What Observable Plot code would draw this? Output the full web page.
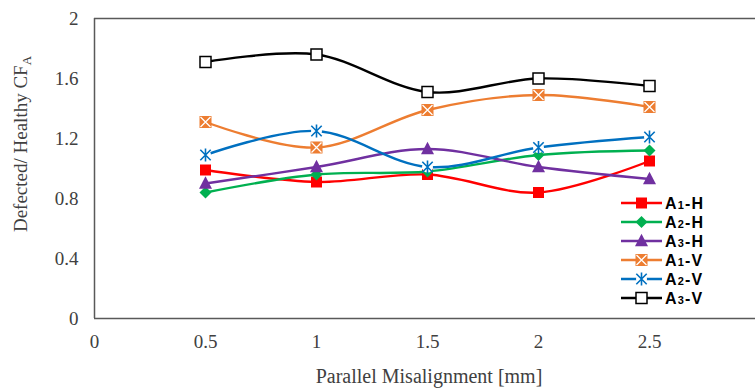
<!DOCTYPE html>
<html>
<head>
<meta charset="utf-8">
<script src="https://cdn.jsdelivr.net/npm/d3@7"></script>
<script src="https://cdn.jsdelivr.net/npm/@observablehq/plot@0.6"></script>
<style>
  html, body { margin: 0; padding: 0; background: #fff; overflow: hidden; }
  #chart { position: relative; width: 755px; height: 388px; }
  #chart svg { overflow: hidden; }
</style>
</head>
<body>
<div id="chart"></div>
<script>
// ---- data ----
const misalignment = [0.5, 1, 1.5, 2, 2.5];
const seriesNames = ["A1-H", "A2-H", "A3-H", "A1-V", "A2-V", "A3-V"];
const a1H = [0.99, 0.91, 0.96, 0.84, 1.05];
const a2H = [0.84, 0.96, 0.98, 1.09, 1.12];
const a3H = [0.90, 1.01, 1.13, 1.01, 0.93];
const a1V = [1.31, 1.14, 1.39, 1.49, 1.41];
const a2V = [1.09, 1.25, 1.01, 1.14, 1.21];
const a3V = [1.71, 1.76, 1.51, 1.60, 1.55];
const xTicks = [0, 0.5, 1, 1.5, 2, 2.5];
const yTicks = [0, 0.4, 0.8, 1.2, 1.6, 2];
const xLabel = "Parallel Misalignment [mm]";
const yLabel = "Defected/ Healthy CF";
const yLabelSub = "A";

// ---- custom marker symbols (size = r^2*pi) ----
const R = s => Math.sqrt(s / Math.PI);
const symSquare = {draw(c, s) { const r = R(s); c.rect(-r, -r, 2 * r, 2 * r); }};
const symDiamond = {draw(c, s) { const r = R(s); c.moveTo(0, -r); c.lineTo(r, 0); c.lineTo(0, r); c.lineTo(-r, 0); c.closePath(); }};
const symTriangle = {draw(c, s) { const r = R(s); c.moveTo(0, -1.1 * r); c.lineTo(r, 0.8 * r); c.lineTo(-r, 0.8 * r); c.closePath(); }};
const symX = {draw(c, s) { const r = R(s); c.moveTo(-r, -r); c.lineTo(r, r); c.moveTo(r, -r); c.lineTo(-r, r); }};
const symAsterisk = {draw(c, s) { const r = R(s); const d = r * 0.8; c.moveTo(0, -r); c.lineTo(0, r); c.moveTo(-d, -d); c.lineTo(d, d); c.moveTo(d, -d); c.lineTo(-d, d); }};
const symCircle = {draw(c, s) { const r = R(s); c.moveTo(r, 0); c.arc(0, 0, r, 0, 2 * Math.PI); }};

const styles = {
  "A1-H": {color: "#FF0000", layers: [{symbol: symSquare, r: 5.5, fill: "#FF0000"}]},
  "A2-H": {color: "#00B050", layers: [{symbol: symDiamond, r: 6, fill: "#00B050"}]},
  "A3-H": {color: "#7030A0", layers: [{symbol: symTriangle, r: 6.5, fill: "#7030A0"}]},
  "A1-V": {color: "#ED7D31", layers: [{symbol: symSquare, r: 6, fill: "#ED7D31"}, {symbol: symX, r: 5, stroke: "#FFFFFF", strokeWidth: 1.3}]},
  "A2-V": {color: "#0070C0", layers: [{symbol: symCircle, r: 5.5, fill: "#FFFFFF"}, {symbol: symAsterisk, r: 6.5, stroke: "#0070C0", strokeWidth: 1.6}]},
  "A3-V": {color: "#000000", layers: [{symbol: symSquare, r: 5.5, fill: "#FFFFFF", stroke: "#000000", strokeWidth: 1.5}]}
};

const valuesBySeries = {"A1-H": a1H, "A2-H": a2H, "A3-H": a3H, "A1-V": a1V, "A2-V": a2V, "A3-V": a3V};
const rows = seriesNames.flatMap(name => misalignment.map((x, i) => ({series: name, x, y: valuesBySeries[name][i]})));

const marks = [];
for (const name of seriesNames) {
  const d = rows.filter(r => r.series === name);
  const st = styles[name];
  marks.push(Plot.line(d, {x: "x", y: "y", stroke: st.color, strokeWidth: 2.4, curve: "cardinal"}));
  for (const L of st.layers) {
    marks.push(Plot.dot(d, {x: "x", y: "y", symbol: L.symbol, r: L.r,
      fill: L.fill || "none", stroke: L.stroke || "none", strokeWidth: L.strokeWidth || 1}));
  }
}

const plot = Plot.plot({
  width: 755,
  height: 388,
  marginLeft: 94,
  marginRight: 0,
  marginTop: 18,
  marginBottom: 70,
  style: {fontFamily: "'Liberation Serif', 'Times New Roman', serif", fontSize: "19px", color: "#404040", background: "#fff"},
  x: {domain: [0, 3], range: [94, 760], ticks: xTicks, tickSize: 0, tickPadding: 16, tickFormat: d => String(d), label: null},
  y: {domain: [0, 2], ticks: yTicks, tickSize: 0, tickPadding: 16, tickFormat: d => String(d), label: null},
  marks: [
    Plot.ruleY([0], {stroke: "#595959", strokeWidth: 1.5}),
    Plot.ruleY([2], {stroke: "#595959", strokeWidth: 1.5}),
    Plot.ruleX([0], {stroke: "#595959", strokeWidth: 1.5}),
    ...marks
  ]
});
document.getElementById("chart").appendChild(plot);

// ---- axis titles and legend ----
const svg = d3.select(plot);
svg.append("text")
  .attr("x", 429).attr("y", 383)
  .attr("text-anchor", "middle")
  .attr("fill", "#404040")
  .style("font-family", "'Liberation Serif', 'Times New Roman', serif")
  .style("font-size", "20px")
  .text(xLabel);

const yl = svg.append("text")
  .attr("transform", "translate(27,144) rotate(-90)")
  .attr("text-anchor", "middle")
  .attr("fill", "#404040")
  .style("font-family", "'Liberation Serif', 'Times New Roman', serif")
  .style("font-size", "19px");
yl.append("tspan").text(yLabel);
yl.append("tspan").attr("dy", 4).style("font-size", "13px").text(yLabelSub);

const lg = svg.append("g").attr("transform", "translate(621,203)").attr("text-anchor", "start");
seriesNames.forEach((name, i) => {
  const st = styles[name];
  const g = lg.append("g").attr("transform", `translate(0,${i * 19})`);
  g.append("line").attr("x1", 0).attr("x2", 41).attr("y1", 0).attr("y2", 0)
    .attr("stroke", st.color).attr("stroke-width", 2.4);
  for (const L of st.layers) {
    g.append("path").attr("transform", "translate(20.5,0)")
      .attr("d", d3.symbol(L.symbol, L.r * L.r * Math.PI)())
      .attr("fill", L.fill || "none").attr("stroke", L.stroke || "none")
      .attr("stroke-width", L.strokeWidth || 1);
  }
  const [a, num, rest] = [name[0], name[1], name.slice(2)];
  const t = g.append("text").attr("x", 44).attr("y", 6)
    .attr("text-anchor", "start")
    .attr("fill", "#000")
    .style("font-family", "'Liberation Sans', Arial, sans-serif")
    .style("font-weight", "bold").style("font-size", "16px")
    .style("letter-spacing", "1.2px");
  t.append("tspan").text(a);
  t.append("tspan").style("font-size", "11px").text(num);
  t.append("tspan").text(rest);
});
</script>
</body>
</html>
